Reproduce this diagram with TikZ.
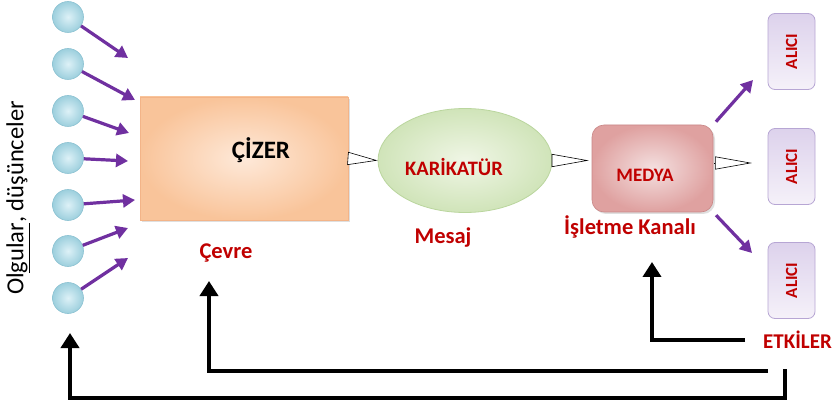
\documentclass[tikz,border=0pt]{standalone}
\usepackage{fontspec}
\setmainfont{Carlito}
\usetikzlibrary{arrows.meta,shapes.geometric,shadows}
\definecolor{txtred}{HTML}{C00000}
\definecolor{purp}{HTML}{7030A0}
\definecolor{ballin}{HTML}{DDF1F7}
\definecolor{ballout}{HTML}{9CCFDD}
\definecolor{ballline}{HTML}{8CC2D2}
\definecolor{cizin}{HTML}{FEE9D9}
\definecolor{cizout}{HTML}{F9C49A}
\definecolor{cizline}{HTML}{F3B488}
\definecolor{elin}{HTML}{F0F6E6}
\definecolor{elout}{HTML}{D0E4B9}
\definecolor{elline}{HTML}{BAD69E}
\definecolor{medin}{HTML}{F4E0E0}
\definecolor{medout}{HTML}{DFA1A0}
\definecolor{medline}{HTML}{C98787}
\definecolor{altop}{HTML}{DDD2EC}
\definecolor{albot}{HTML}{F5F1F9}
\definecolor{alline}{HTML}{B7A6D4}
\begin{document}
\begin{tikzpicture}[x=1pt,y=-1pt,
  ball/.style={circle, minimum size=31pt, inner sep=0pt, draw=ballline, line width=0.6pt, inner color=ballin, outer color=ballout},
  parrow/.style={draw=purp, line width=3.2pt, -{Triangle[length=12pt,width=13pt]}},
  fb/.style={draw=black, line width=4.5pt, line join=miter, -{Triangle[length=15pt,width=18pt]}},
  opentri/.style={draw=black, line width=0.6pt, -{Triangle[open,fill=white,length=#1,width=13pt]}},
  lab/.style={text=txtred, font=\bfseries\fontsize{22.5}{24}\selectfont, inner sep=0pt},
  alici/.style={rectangle, rounded corners=7pt, minimum width=47pt, minimum height=76pt, draw=alline, line width=0.8pt, top color=altop, bottom color=albot},
  alicitxt/.style={text=txtred, font=\bfseries\fontsize{17}{18}\selectfont, rotate=90, inner sep=0pt}
]
\fill[white] (0,0) rectangle (833,406);
\useasboundingbox (0,0) rectangle (833,406);

% left text
\node[rotate=90, font=\fontsize{24.5}{26}\selectfont, inner sep=0pt] (olg) at (18,198) {Ol\underline{gular}, düşünceler};

% balls
\foreach \i/\y in {1/17,2/64,3/111,4/158,5/205,6/251,7/298}
  \node[ball] (b\i) at (68,\y) {};

% arrow tips
\coordinate (p1) at (128,58);
\coordinate (p2) at (135,100);
\coordinate (p3) at (129,133);
\coordinate (p4) at (128,161);
\coordinate (p5) at (135,200);
\coordinate (p6) at (128,228);
\coordinate (p7) at (128,258);
\foreach \i in {1,...,7}
  \draw[parrow] (b\i) -- (p\i);

% CIZER box
\node[rectangle, minimum width=208pt, minimum height=123pt, draw=cizline, line width=0.6pt,
      inner color=cizin, outer color=cizout,
      drop shadow={opacity=0.25, shadow xshift=2pt, shadow yshift=-2pt}] (cizer) at (244,158.5) {};
\node[font=\bfseries\fontsize{25}{27}\selectfont, inner sep=0pt] (cizertxt) at (261,150) {ÇİZER};
\node[lab] (cevre) at (226,253) {Çevre};

% ellipse
\node[ellipse, minimum width=174pt, minimum height=104pt, draw=elline, line width=0.8pt,
      inner color=elin, outer color=elout] (kar) at (465,160.5) {};
\node[text=txtred, font=\bfseries\fontsize{20.5}{22}\selectfont, inner sep=0pt] (kartxt) at (454,167) {KARİKATÜR};
\node[lab] (mesaj) at (443,238) {Mesaj};

% MEDYA
\node[rectangle, rounded corners=12pt, minimum width=121pt, minimum height=87pt, draw=medline, line width=0.6pt,
      inner color=medin, outer color=medout,
      drop shadow={opacity=0.25, shadow xshift=2pt, shadow yshift=-2pt}] (medya) at (652.5,168.5) {};
\node[text=txtred, font=\bfseries\fontsize{19}{20}\selectfont, inner sep=0pt] (medtxt) at (645,175) {MEDYA};
\node[lab] (isl) at (630,227) {İşletme Kanalı};

% ALICI
\node[alici] (a1) at (791.5,51.5) {};
\node[alicitxt] at (a1) {ALICI};
\node[alici] (a2) at (791.5,166.5) {};
\node[alicitxt] at (a2) {ALICI};
\node[alici] (a3) at (791.5,280.5) {};
\node[alicitxt] at (a3) {ALICI};
\node[text=txtred, font=\bfseries\fontsize{21}{22}\selectfont, inner sep=0pt, anchor=west] (etk) at (763,340) {ETKİLER};

% open triangles
\draw[opentri=30pt] (cizer.east) -- (kar.west);
\draw[opentri=37pt, shorten >=3pt] (kar.east) -- (kar.east -| medya.west);
\coordinate (t3s) at (714,163);
\coordinate (t3e) at (752,163);
\draw[opentri=37pt] (t3s) -- (t3e);

% purple to receivers
\coordinate (pa1) at (753,80);
\coordinate (pa2) at (752,253);
\draw[parrow, shorten <=4pt] (medya.north east) -- (pa1);
\draw[parrow, shorten <=4pt] (medya.south east) -- (pa2);

% feedback
\coordinate (f1s) at (745,340);
\coordinate (f1t) at (652,262);
\draw[fb] (f1s) -| (f1t);
\coordinate (f2s) at (768,371);
\coordinate (f2t) at (209,281);
\draw[fb] (f2s) -| (f2t);
\coordinate (f3s) at (785,369);
\coordinate (f3c) at (70,398);
\coordinate (f3t) at (70,333);
\draw[fb] (f3s) |- (f3c) -- (f3t);
\end{tikzpicture}
\end{document}
